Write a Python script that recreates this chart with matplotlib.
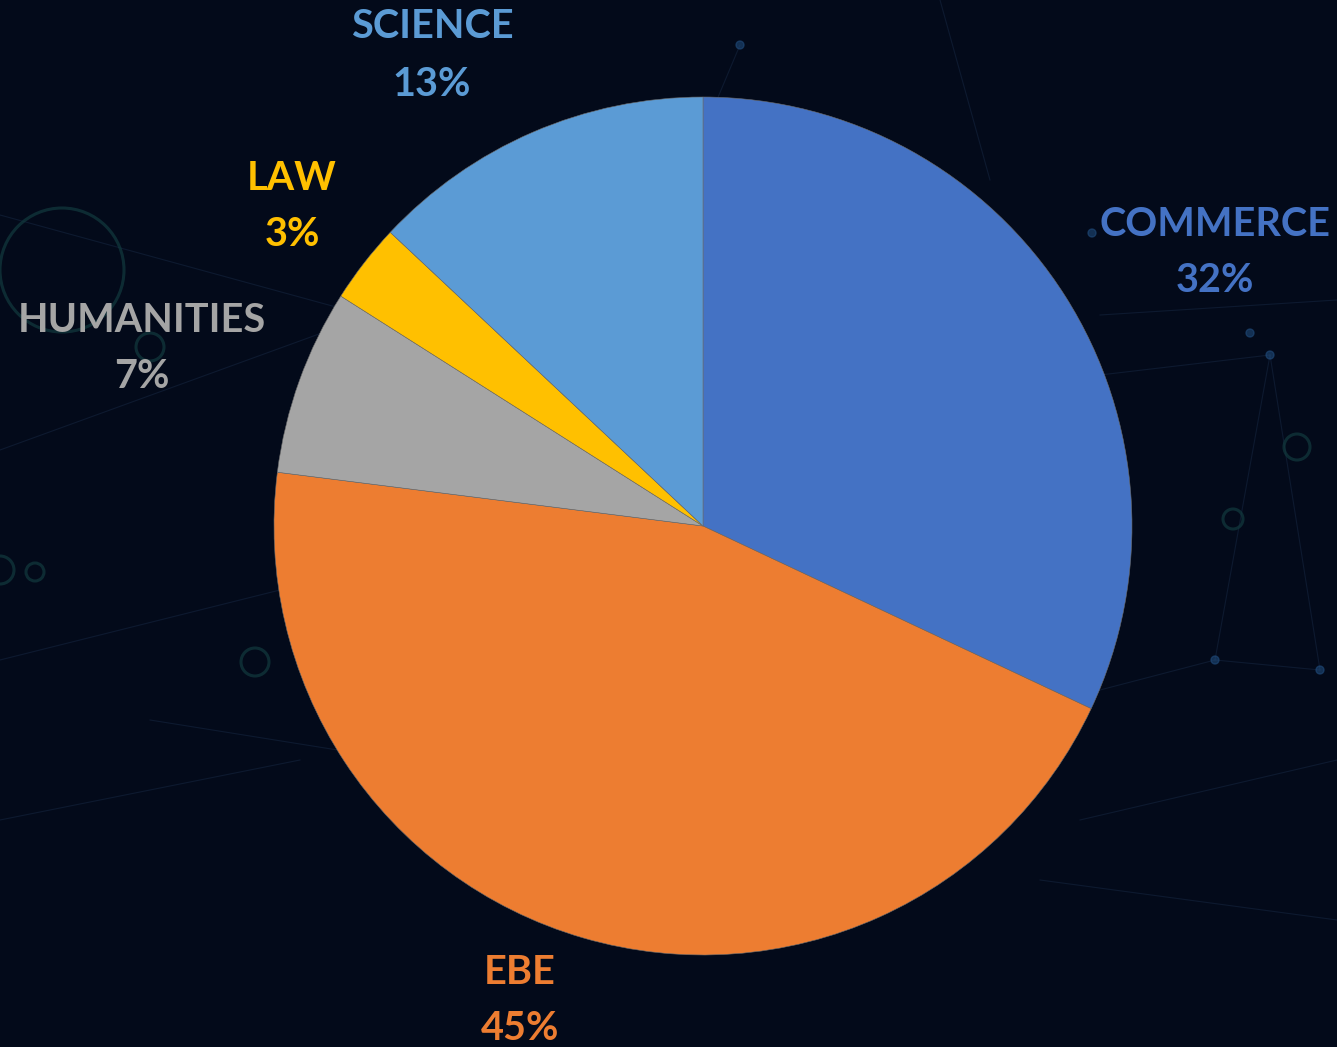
import matplotlib
matplotlib.use("Agg")
import matplotlib.pyplot as plt
from matplotlib.patches import Circle
import numpy as np

categories = ["COMMERCE", "EBE", "HUMANITIES", "LAW", "SCIENCE"]
values = [32, 45, 7, 3, 13]
colors = ["#4472C4", "#ED7D31", "#A5A5A5", "#FFC000", "#5B9BD5"]

W, H = 1337, 1047
BG = "#030a1a"

fig = plt.figure(figsize=(W / 100, H / 100), dpi=100, facecolor=BG)
ax = fig.add_axes([0, 0, 1, 1])
ax.set_facecolor(BG)
ax.set_xlim(0, W)
ax.set_ylim(H, 0)
ax.axis("off")

# faint background network decoration
deco_lines = [((0, 215), (420, 330)), ((0, 450), (330, 330)), ((0, 660), (400, 560)),
              ((1100, 375), (1270, 355)), ((1270, 355), (1215, 660)), ((1270, 355), (1320, 670)),
              ((1100, 690), (1215, 660)), ((1215, 660), (1320, 670)), ((1100, 315), (1337, 300)),
              ((0, 820), (300, 760)), ((940, 0), (990, 180)), ((700, 140), (740, 45)),
              ((1080, 820), (1337, 760)), ((1040, 880), (1337, 920)), ((150, 720), (400, 760))]
for (x0, y0), (x1, y1) in deco_lines:
    ax.plot([x0, x1], [y0, y1], color="#1a2d4a", lw=0.8, alpha=0.45, zorder=0)
for (cx, cy, r) in [(62, 270, 62), (150, 347, 14), (255, 662, 14), (1297, 447, 13),
                    (1233, 519, 10), (35, 572, 9), (0, 570, 14)]:
    ax.add_patch(Circle((cx, cy), r, fill=False, ec="#123a3e", lw=2.2, alpha=0.7, zorder=0))
for (cx, cy) in [(1270, 355), (1215, 660), (1320, 670), (740, 45), (1092, 233), (1250, 333)]:
    ax.add_patch(Circle((cx, cy), 4, color="#1f4a7a", alpha=0.6, zorder=0))

# pie: y axis inverted, so counterclock=True draws clockwise on screen
cx, cy, R = 703, 526, 429
wedges, _ = ax.pie(values, colors=colors, startangle=-90, counterclock=True,
                   center=(cx, cy), radius=R, frame=True,
                   wedgeprops=dict(edgecolor="#6b6b6b", linewidth=0.4))
ax.set_xlim(0, W)
ax.set_ylim(H, 0)
ax.axis("off")
ax.set_aspect("equal")

label_pos = [(1215, 224), (520, 972), (142, 320), (292, 178), (432, 27)]
font = dict(family="Lato", weight="bold", fontsize=28.5)
for name, v, c, (lx, ly) in zip(categories, values, colors, label_pos):
    ax.text(lx, ly, name, color=c, ha="center", va="center", **font)
    ax.text(lx, ly + 57, f"{v}%", color=c, ha="center", va="center", **font)

fig.savefig("out.png", dpi=100, facecolor=BG)
